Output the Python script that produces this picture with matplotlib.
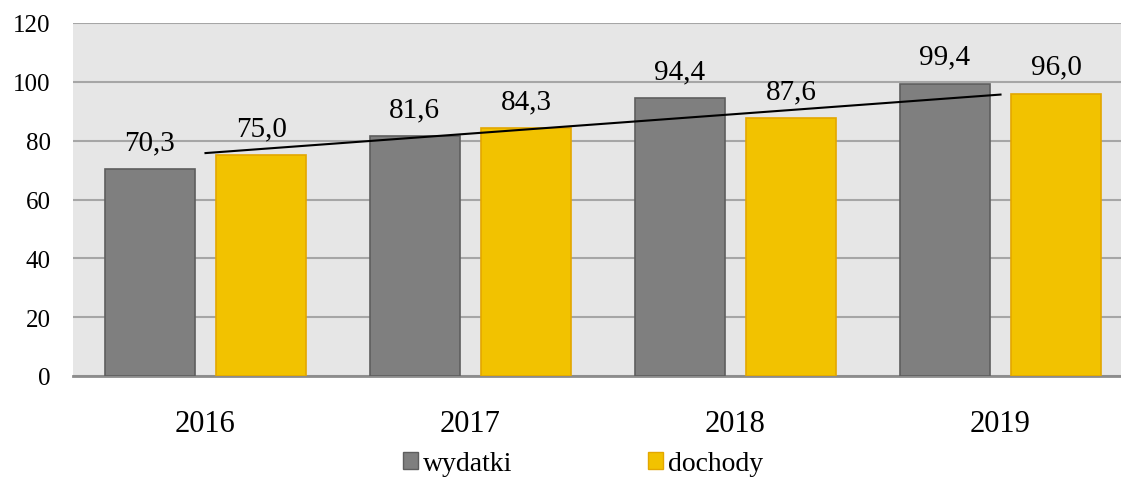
import matplotlib
matplotlib.use("Agg")
import matplotlib.pyplot as plt
import numpy as np
from matplotlib.patches import Patch

years = ["2016", "2017", "2018", "2019"]
wydatki = [70.3, 81.6, 94.4, 99.4]
dochody = [75.0, 84.3, 87.6, 96.0]
series_names = ["wydatki", "dochody"]
yticks = [0, 20, 40, 60, 80, 100, 120]

plt.rcParams['font.family'] = ['Liberation Serif', 'DejaVu Serif']

W, H = 1121, 481
fig = plt.figure(figsize=(W/100, H/100), dpi=100)
ax = fig.add_axes([73/W, 1-377/H, (1133-73)/W, (377-24)/H])
ax.set_facecolor('#E6E6E6')

x = np.arange(len(years))
bw = 0.34
off = 0.21
c1, e1 = '#7F7F7F', '#5E5E5E'
c2, e2 = '#F2C200', '#E3A700'
b1 = ax.bar(x - off, wydatki, bw, color=c1, edgecolor=e1, linewidth=1.2, zorder=3)
b2 = ax.bar(x + off, dochody, bw, color=c2, edgecolor=e2, linewidth=1.2, zorder=3)

for rects, vals in ((b1, wydatki), (b2, dochody)):
    for r, v in zip(rects, vals):
        ax.annotate(f"{v:.1f}".replace('.', ','), (r.get_x() + r.get_width()/2, v),
                    xytext=(0, 10), textcoords='offset points', ha='center', va='bottom',
                    fontsize=21, color='#000000', zorder=5)

# linear trend of dochody
coef = np.polyfit(x, dochody, 1)
ax.plot(x, np.polyval(coef, x), color='black', linewidth=1.5, zorder=4)

ax.set_xlim(-0.5, 3.5)
ax.set_ylim(0, 120)
ax.set_yticks(yticks)
ax.set_yticklabels([str(t) for t in yticks], fontsize=18)
ax.set_xticks(x)
ax.set_xticklabels(years, fontsize=22)
ax.tick_params(axis='both', length=0)
ax.tick_params(axis='x', pad=24)
ax.tick_params(axis='y', pad=16)
ax.yaxis.grid(True, color='#A6A6A6', linewidth=1.5, zorder=0)
ax.set_axisbelow(True)
for s in ('left', 'right', 'top'):
    ax.spines[s].set_visible(False)
ax.spines['bottom'].set_color('#8C8C8C')
ax.spines['bottom'].set_linewidth(2)

handles = [Patch(facecolor=c1, edgecolor=e1), Patch(facecolor=c2, edgecolor=e2)]
fig.legend(handles, series_names, loc='center', bbox_to_anchor=(583/W, 1-465/H),
           ncol=2, frameon=False, fontsize=20, handlelength=0.54, handleheight=0.54,
           handletextpad=0.18, columnspacing=4.9, borderpad=0)

fig.savefig('out.png', dpi=100)
